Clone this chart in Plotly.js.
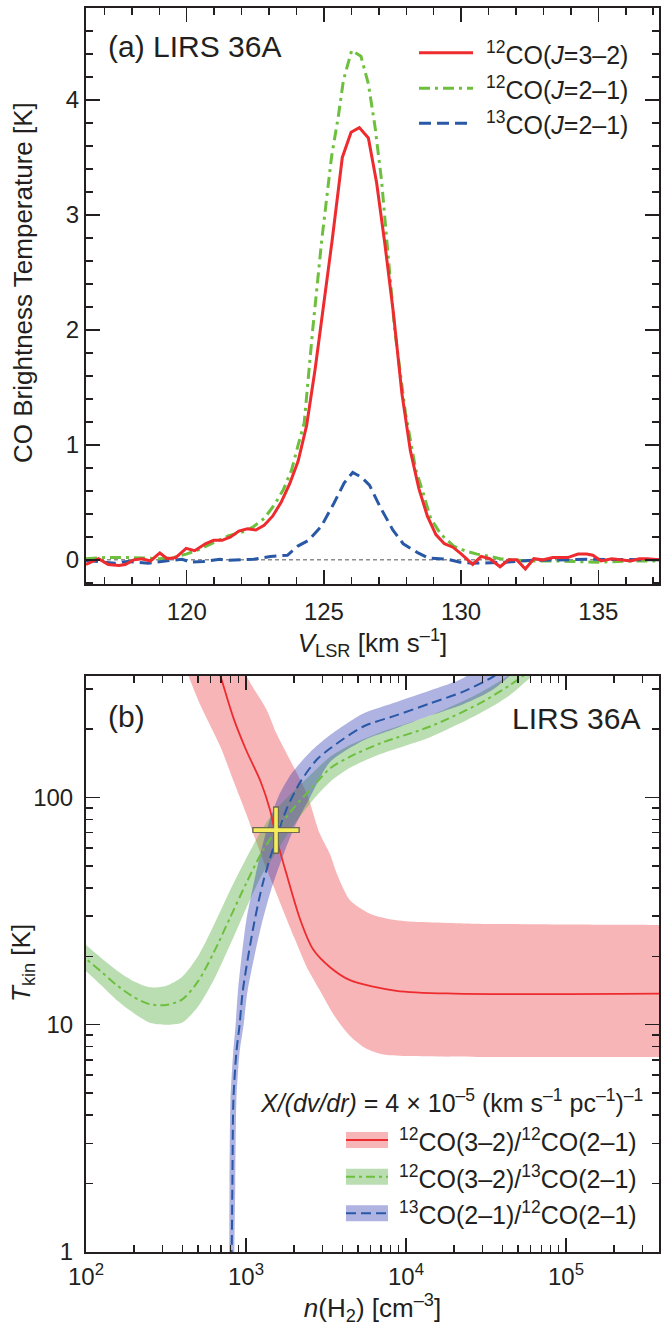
<!DOCTYPE html>
<html><head><meta charset="utf-8">
<script src="https://cdn.plot.ly/plotly-3.0.1.min.js"></script>
<style>html,body{margin:0;padding:0;background:#fff}</style>
</head><body>
<div id="chart" style="width:661px;height:1326px"></div>
<script>
// ---------- panel (a): CO spectra ----------
const velRed = [116.33,116.79,117.14,117.53,117.76,118.07,118.37,118.68,119.02,119.29,119.60,119.98,120.29,120.68,120.98,121.29,121.60,121.90,122.21,122.52,122.82,123.13,123.44,123.75,124.06,124.37,124.68,124.99,125.30,125.67,125.99,126.29,126.62,126.92,127.22,127.53,127.84,128.15,128.46,128.77,129.08,129.39,129.70,130.01,130.42,130.73,131.04,131.42,131.73,132.03,132.34,132.65,132.96,133.34,133.65,133.88,134.26,134.57,134.80,135.10,135.49,135.87,136.18,136.49,136.79,137.21];
const tbRed = [-0.04,0.01,-0.04,-0.05,-0.04,0.00,0.01,-0.01,0.06,0.01,0.02,0.10,0.08,0.14,0.17,0.17,0.20,0.25,0.27,0.26,0.30,0.38,0.50,0.66,0.86,1.17,1.66,2.22,2.78,3.50,3.72,3.76,3.67,3.28,2.75,2.15,1.45,0.95,0.62,0.38,0.22,0.14,0.11,0.05,-0.04,0.03,0.01,-0.06,0.00,0.00,-0.08,0.01,0.00,0.02,0.02,0.02,0.05,0.05,0.04,-0.01,0.01,0.00,-0.01,0.01,0.01,0.00];

const velGreen = [116.33,117.0,118.0,119.0,119.5,119.98,120.45,120.9,121.53,122.13,122.44,122.82,123.2,123.52,123.82,124.05,124.28,124.59,124.92,125.28,125.52,125.71,126.01,126.35,126.62,126.86,127.10,127.29,127.58,127.97,128.35,128.58,128.89,129.27,129.73,130.12,130.58,131.04,131.42,132.4,133.5,135.0,136.2,137.21];
const tbGreen = [0.01,0.02,0.02,0.01,0.02,0.05,0.09,0.14,0.21,0.25,0.29,0.36,0.48,0.61,0.78,0.99,1.19,2.0,2.78,3.51,3.85,4.17,4.43,4.38,4.14,3.77,3.30,2.78,2.0,1.28,0.78,0.61,0.36,0.22,0.12,0.08,0.05,0.03,0.01,-0.01,-0.01,-0.02,-0.01,-0.01];

const velBlue = [116.33,117.38,117.84,118.6,119.37,119.83,120.14,120.6,121.21,121.44,122.44,123.05,123.67,124.05,124.44,124.9,125.36,125.74,126.05,126.36,126.66,127.05,127.51,127.89,128.43,128.81,129.5,129.96,130.42,131.65,132.42,133.19,134.72,137.21];
const tbBlue = [-0.005,-0.03,-0.015,-0.03,-0.005,0.005,-0.02,-0.015,0.005,-0.005,0.005,0.03,0.04,0.12,0.17,0.29,0.49,0.67,0.76,0.72,0.65,0.46,0.26,0.14,0.06,0.015,0.005,-0.02,-0.03,-0.02,-0.005,0,0.005,0];

const legendA = ['<sup>12</sup>CO(<i>J</i>=3–2)','<sup>12</sup>CO(<i>J</i>=2–1)','<sup>13</sup>CO(<i>J</i>=2–1)'];

// ---------- panel (b): LVG ratio curves ----------
const nRedMid = [631,692,832,1000,1230,1413,1549,1778,2188,2630,3350,4467,8710,19950,398000];
const tRedMid = [417,342,225,162,118,88,66,46.8,28.8,21.4,17.9,15.7,14.1,13.7,13.7];
const nRedLo = [380,437,513,692,832,1000,1230,1549,1995,2399,2884,3548,4467,5623,7079,10000,31620,200000,1000000,3000000];
const tRedLo = [447,342,259,167,119,85.1,56.8,37.8,24.3,17.9,14.2,11.0,8.91,7.85,7.41,7.28,7.21,7.21,7.21,7.21];
const nRedHi = [912,1009,1349,1549,1884,2399,2884,3350,3690,4467,5957,8710,22900,200000,1000000,3000000];
const tRedHi = [447,342,242,191,146,104,69.5,56.2,46.3,35.3,30.8,28.8,27.9,27.5,27.5,27.5];

const nGreenMid = [89.1,100,126,158,200,251,316,398,501,631,794,1000,1259,1549,1995,2630,3350,4467,6918,14130,28840,44670,53700,70800];
const tGreenMid = [20.9,19.5,17.0,14.8,13.2,12.3,12.2,12.9,15.5,20.9,29.5,41.7,57.5,71.8,90.2,112,134,151,173,205,259,312,342,398];
const nGreenHi = [60,89.1,100,126,158,200,251,316,398,501,631,794,1000,1259,1549,1995,2630,3350,4467,6918,14130,28840,44670,63100];
const tGreenHi = [29.0,24.0,22.4,19.5,17.2,15.5,14.6,14.8,16.2,20.0,27.5,38.9,53.7,72.4,89.1,107,129,151,170,193,229,288,347,417];
const nGreenLo = [60,89.1,100,126,158,200,251,316,398,501,631,794,1000,1259,1549,1995,2630,3350,4467,6918,14130,28840,44670,79430];
const tGreenLo = [22.0,18.2,17.2,14.8,12.7,11.2,10.2,10.0,10.2,12.0,15.8,22.4,32.4,45.7,57.5,75.9,97.7,117,135,155,184,234,282,417];

const nBlueMid = [804,813,822,834,871,912,955,1112,1282,1549,1795,2188,2754,3350,5408,8750,14130,22800,35160,39810];
const tBlueMid = [0.794,1.0,2.0,4.66,7.59,10.0,14.1,26.9,42.7,66.1,89.1,117,146,164,205,230,259,292,340,363];
const nBlueHi = [785,789,800,832,861,891,1000,1148,1349,1585,1905,2512,3350,5408,8750,14130,22800,31620];
const tBlueHi = [0.794,2.0,4.66,7.59,10.0,14.1,28.2,45.7,72.4,100,126,158,188,234,263,295,335,398];
const nBlueLo = [841,857,871,912,966,1023,1230,1445,1738,2042,2512,3350,5408,8750,14130,22800,35160,50120];
const tBlueLo = [0.794,2.0,4.66,7.59,10.0,14.1,26.3,39.8,57.5,75.9,100,143,178,202,229,257,299,380];

const crossN = [1540];
const crossT = [71.8];

const legendB = ['<sup>12</sup>CO(3–2)/<sup>12</sup>CO(2–1)','<sup>12</sup>CO(3–2)/<sup>13</sup>CO(2–1)','<sup>13</sup>CO(2–1)/<sup>12</sup>CO(2–1)'];
const xTickVals = [100,1000,10000,100000];
const xTickText = ['10<sup>2</sup>','10<sup>3</sup>','10<sup>4</sup>','10<sup>5</sup>'];
const yTickVals = [1,10,100];
const yTickText = ['1','10','100'];

// ---------- styles ----------
const INK = '#231f20';
const FONT = 'Liberation Sans, Arial, Helvetica, sans-serif';
const RED = '#ee2b2e', GREEN = '#6dbf3e', BLUE = '#2858a6';
const RED_BAND = 'rgba(237,86,91,0.44)', GREEN_BAND = 'rgba(97,179,79,0.44)', BLUE_BAND = 'rgba(45,55,175,0.38)';
const DASH_A = '12px,6px', DASHDOT_A = '11px,5px,3px,5px';
const DASH_B = '10px,5px', DASHDOT_B = '9px,4px,3px,4px';

// plot-area pixel frame -> paper coords
const L = 86, R = 659, T = 8, B = 1252;
const px = x => (x - L) / (R - L);
const py = y => (B - y) / (B - T);

function poly(n1, t1, n2, t2) {
  return {x: n1.concat(n2.slice().reverse()), y: t1.concat(t2.slice().reverse())};
}
const redPoly = poly(nRedLo, tRedLo, nRedHi, tRedHi);
const greenPoly = poly(nGreenLo, tGreenLo, nGreenHi, tGreenHi);
const bluePoly = poly(nBlueHi, tBlueHi, nBlueLo, tBlueLo);

const band = (p, c) => ({x: p.x, y: p.y, xaxis: 'x2', yaxis: 'y2', mode: 'lines', fill: 'toself', fillcolor: c,
  line: {width: 0, shape: 'spline', smoothing: 0.7}, showlegend: false, hoverinfo: 'skip'});

const traces = [
  {x: velGreen, y: tbGreen, xaxis: 'x', yaxis: 'y', mode: 'lines', line: {color: GREEN, width: 3, dash: DASHDOT_A}, showlegend: false},
  {x: velBlue, y: tbBlue, xaxis: 'x', yaxis: 'y', mode: 'lines', line: {color: BLUE, width: 3, dash: DASH_A}, showlegend: false},
  {x: velRed, y: tbRed, xaxis: 'x', yaxis: 'y', mode: 'lines', line: {color: RED, width: 3}, showlegend: false},

  band(redPoly, RED_BAND),
  band(greenPoly, GREEN_BAND),
  band(bluePoly, BLUE_BAND),
  {x: nRedMid, y: tRedMid, xaxis: 'x2', yaxis: 'y2', mode: 'lines', line: {color: RED, width: 1.8, shape: 'spline', smoothing: 0.8}, showlegend: false},
  {x: nGreenMid, y: tGreenMid, xaxis: 'x2', yaxis: 'y2', mode: 'lines', line: {color: GREEN, width: 2, dash: DASHDOT_B, shape: 'spline', smoothing: 0.8}, showlegend: false},
  {x: nBlueMid, y: tBlueMid, xaxis: 'x2', yaxis: 'y2', mode: 'lines', line: {color: BLUE, width: 2, dash: DASH_B, shape: 'spline', smoothing: 0.8}, showlegend: false},
  {x: crossN, y: crossT, xaxis: 'x2', yaxis: 'y2', mode: 'markers', marker: {symbol: 'cross-thin', size: 34, line: {width: 6, color: '#6b6b55'}}, showlegend: false},
  {x: crossN, y: crossT, xaxis: 'x2', yaxis: 'y2', mode: 'markers', marker: {symbol: 'cross-thin', size: 32, line: {width: 3.6, color: '#f5ec5c'}}, showlegend: false}
];

function axisBase(extra) {
  return Object.assign({
    ticks: 'inside', ticklen: 14, tickwidth: 1.5, tickcolor: INK,
    showline: true, linewidth: 2, linecolor: INK, mirror: 'allticks',
    showgrid: false, zeroline: false,
    tickfont: {family: FONT, size: 24, color: INK}
  }, extra);
}
const minorLin = d => ({dtick: d, ticks: 'inside', ticklen: 7, tickwidth: 1.5, tickcolor: INK, showgrid: false});
const minorLog = {dtick: 'D1', ticks: 'inside', ticklen: 7, tickwidth: 1.5, tickcolor: INK, showgrid: false};

const shapes = [
  {type: 'line', xref: 'x domain', yref: 'y', x0: 0, x1: 1, y0: 0, y1: 0, layer: 'below', line: {color: '#8c8c8c', width: 1.5, dash: '4px,3px'}}
];
const annotations = [
  {xref: 'paper', yref: 'paper', x: px(106), y: py(47), xanchor: 'left', yanchor: 'middle', text: '(a) LIRS 36A', showarrow: false, font: {family: FONT, size: 30, color: INK}},
  {xref: 'paper', yref: 'paper', x: px(106), y: py(716), xanchor: 'left', yanchor: 'middle', text: '(b)', showarrow: false, font: {family: FONT, size: 30, color: INK}},
  {xref: 'paper', yref: 'paper', x: px(642), y: py(718), xanchor: 'right', yanchor: 'middle', text: 'LIRS 36A', showarrow: false, font: {family: FONT, size: 30, color: INK}},
  {xref: 'paper', yref: 'paper', x: px(645), y: py(1101), xanchor: 'right', yanchor: 'middle', text: '<i>X/(dv/dr)</i> = 4 × 10<sup>–5</sup> (km s<sup>–1</sup> pc<sup>–1</sup>)<sup>–1</sup>', showarrow: false, font: {family: FONT, size: 25, color: INK}},
  // y-axis titles
  {xref: 'paper', yref: 'paper', x: px(23), y: py(283), xanchor: 'center', yanchor: 'middle', textangle: -90, text: 'CO Brightness Temperature [K]', showarrow: false, font: {family: FONT, size: 26, color: INK}},
  {xref: 'paper', yref: 'paper', x: px(23), y: py(963), xanchor: 'center', yanchor: 'middle', textangle: -90, text: '<i>T</i><sub>kin</sub> [K]', showarrow: false, font: {family: FONT, size: 26, color: INK}}
];

// legend (a)
const rowsA = [52.7, 88.3, 123.3];
const colsA = [RED, GREEN, BLUE];
const dashA = ['solid', DASHDOT_A, DASH_A];
rowsA.forEach((yy, i) => {
  shapes.push({type: 'line', xref: 'paper', yref: 'paper', x0: px(419), x1: px(473), y0: py(yy), y1: py(yy), line: {color: colsA[i], width: 3, dash: dashA[i]}});
  annotations.push({xref: 'paper', yref: 'paper', x: px(484), y: py(yy), xanchor: 'left', yanchor: 'middle', text: legendA[i], showarrow: false, font: {family: FONT, size: 25, color: INK}});
});
// legend (b)
const rowsB = [1140, 1176.7, 1213.3];
const bandsB = [RED_BAND, GREEN_BAND, BLUE_BAND];
const dashB = ['solid', DASHDOT_B, DASH_B];
rowsB.forEach((yy, i) => {
  shapes.push({type: 'rect', xref: 'paper', yref: 'paper', x0: px(346), x1: px(388), y0: py(yy - 8), y1: py(yy + 8), fillcolor: bandsB[i], line: {width: 0}});
  shapes.push({type: 'line', xref: 'paper', yref: 'paper', x0: px(346), x1: px(388), y0: py(yy), y1: py(yy), line: {color: colsA[i], width: 2, dash: dashB[i]}});
  annotations.push({xref: 'paper', yref: 'paper', x: px(397), y: py(yy), xanchor: 'left', yanchor: 'middle', text: legendB[i], showarrow: false, font: {family: FONT, size: 25, color: INK}});
});

const layout = {
  width: 661, height: 1326,
  margin: {l: L, r: 661 - R, t: T, b: 1326 - B, pad: 0},
  paper_bgcolor: '#fff', plot_bgcolor: 'rgba(0,0,0,0)',
  font: {family: FONT, color: INK},
  showlegend: false,
  xaxis: axisBase({domain: [0, 1], anchor: 'y', range: [116.33, 137.21], tick0: 0, dtick: 5, minor: minorLin(1), ticklabelstandoff: 5,
    title: {text: '<i>V</i><sub>LSR</sub> [km s<sup>–1</sup>]', font: {family: FONT, size: 26, color: INK}, standoff: 10}}),
  yaxis: axisBase({domain: [py(584), 1], anchor: 'x', range: [-0.21, 4.8], tick0: 0, dtick: 1, minor: minorLin(0.2)}),
  xaxis2: axisBase({domain: [0, 1], anchor: 'y2', type: 'log', range: [2, 5.581], tickmode: 'array', tickvals: xTickVals, ticktext: xTickText, minor: minorLog, ticklabelstandoff: 2,
    title: {text: '<i>n</i>(H<sub>2</sub>) [cm<sup>–3</sup>]', font: {family: FONT, size: 26, color: INK}, standoff: 16}}),
  yaxis2: axisBase({domain: [0, py(676)], anchor: 'x2', type: 'log', range: [0, 2.534], tickmode: 'array', tickvals: yTickVals, ticktext: yTickText, minor: minorLog, ticklabelstandoff: 6}),
  shapes: shapes,
  annotations: annotations
};

Plotly.newPlot('chart', traces, layout, {staticPlot: true, displayModeBar: false});
</script>
</body></html>
